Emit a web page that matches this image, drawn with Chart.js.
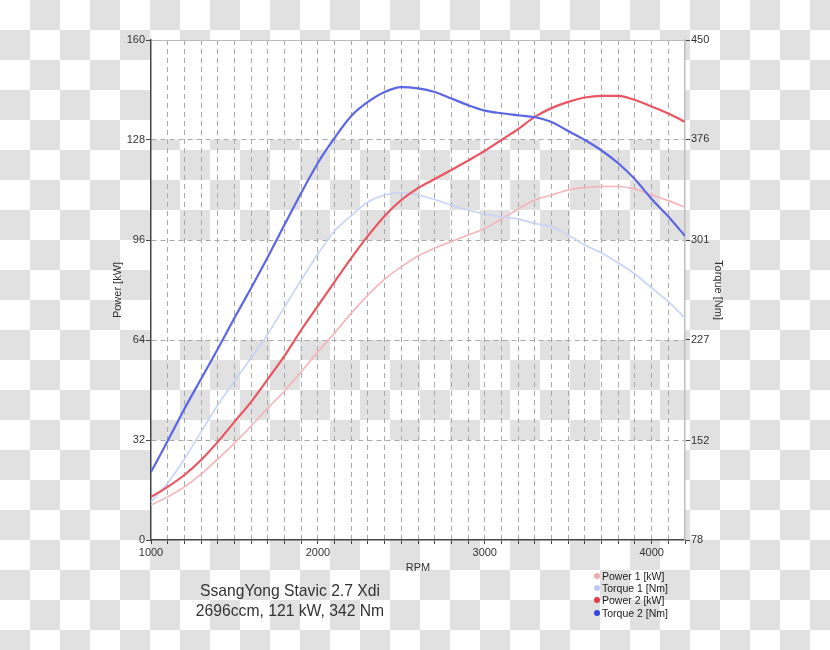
<!DOCTYPE html>
<html>
<head>
<meta charset="utf-8">
<script src="https://cdn.jsdelivr.net/npm/chart.js@4.4.1/dist/chart.umd.min.js"></script>
<style>
  html, body { margin: 0; padding: 0; }
  body {
    width: 830px; height: 650px; overflow: hidden; position: relative;
    background: repeating-conic-gradient(#e1e1e1 0 25%, #ffffff 0 50%) 0 0 / 60px 60px;
    font-family: "Liberation Sans", Arial, sans-serif;
  }
  #c { position: absolute; left: 0; top: 0; }
  #caption {
    position: absolute; left: 140px; width: 300px; top: 581px;
    text-align: center; font-size: 15.7px; line-height: 20px; color: #333;
  }
  #legend { position: absolute; left: 594px; top: 570px; font-size: 10.5px; color: #222; }
  #legend div { height: 12.2px; line-height: 12.2px; white-space: nowrap; }
  #legend span.dot { display: inline-block; width: 6px; height: 6px; border-radius: 3px; margin-right: 2px; vertical-align: 1px; }
</style>
</head>
<body>
<canvas id="c" width="830" height="650"></canvas>
<div id="caption">SsangYong Stavic 2.7 Xdi<br>2696ccm, 121 kW, 342 Nm</div>
<div id="legend"></div>
<script>
// ---- data ----
const rpm = [1000,1100,1200,1300,1400,1500,1600,1700,1800,1900,2000,2100,2200,2300,2400,2500,2600,2700,2800,2900,3000,3100,3200,3300,3400,3500,3600,3700,3800,3900,4000,4100,4200];
const power1 = [11.2,13.8,17.0,21.1,25.9,31.0,36.5,42.2,47.7,53.8,60.2,66.2,72.6,78.4,83.5,87.4,90.9,93.4,95.5,97.6,99.7,102.7,105.9,108.8,110.4,112.0,112.8,113.1,113.1,112.3,110.4,108.6,106.5];
const torque1 = [106.3,120.4,138.3,158.4,178.4,196.3,213.4,231.3,251.4,271.4,290.8,307.9,319.3,329.5,334.7,336.4,334.7,331.3,327.2,323.5,320.5,318.3,316.9,313.5,311.1,304.9,297.5,291.5,284.1,275.9,265.5,255.3,243.2];
const power2 = [13.8,17.0,20.8,25.6,31.4,37.8,44.2,51.5,58.9,67.2,74.9,82.6,90.2,97.3,103.7,108.8,112.6,115.5,118.4,121.4,124.5,128.0,131.5,135.4,138.2,140.2,141.6,142.1,142.1,140.8,138.7,136.5,133.8];
const torque2 = [128.6,151.7,175.5,197.8,220.1,243.2,265.5,288.5,312.5,336.2,358.5,377.1,393.5,403.9,411.3,415.0,414.0,411.3,406.5,401.5,397.5,395.5,394.0,392.5,389.0,382.3,375.6,367.8,358.3,346.4,331.7,318.7,304.2];
const seriesNames = ["Power 1 [kW]", "Torque 1 [Nm]", "Power 2 [kW]", "Torque 2 [Nm]"];
const powerTicks = [0, 32, 64, 96, 128, 160];
const torqueTicks = [78, 152, 227, 301, 376, 450];
const rpmLabels = [1000, 2000, 3000, 4000];

// ---- styling ----
const lineColors = ["#f5b3b8", "#c7d3f7", "#ea5562", "#5b66e4"];
const dotColors = ["#f0aaaa", "#c0c8f6", "#e83a48", "#3845de"];
const lineWidths = [1.6, 1.6, 2.2, 2.2];
const whiteBands = [[0, 32], [64, 96], [128, 160]];

const pts = arr => arr.map((v, i) => ({ x: rpm[i], y: v }));
const seriesData = [power1, torque1, power2, torque2];
const axes = ["yP", "yT", "yP", "yT"];
const orders = [3, 2, 1, 0];

const datasets = seriesData.map((d, i) => ({
  label: seriesNames[i],
  data: pts(d),
  yAxisID: axes[i],
  borderColor: lineColors[i],
  borderWidth: lineWidths[i],
  pointRadius: 0,
  tension: 0.4,
  cubicInterpolationMode: 'monotone',
  fill: false,
  order: orders[i]
}));

const bandPlugin = {
  id: 'bands',
  beforeDraw(chart) {
    const { ctx, chartArea: a, scales } = chart;
    const y = scales.yP;
    ctx.save();
    ctx.fillStyle = '#ffffff';
    whiteBands.forEach(([lo, hi]) => {
      const t = y.getPixelForValue(hi), b = y.getPixelForValue(lo);
      ctx.fillRect(a.left, t, a.right - a.left, b - t);
    });
    ctx.restore();
  }
};

const tickFont = { family: "'Liberation Sans', Arial, sans-serif", size: 11 };
const transparent = 'rgba(0,0,0,0)';

new Chart(document.getElementById('c'), {
  type: 'line',
  data: { datasets },
  options: {
    responsive: false,
    animation: false,
    events: [],
    layout: { padding: { top: 40, left: 0, right: 0, bottom: 0 } },
    plugins: { legend: { display: false }, tooltip: { enabled: false } },
    scales: {
      x: {
        type: 'linear', min: 1000, max: 4200,
        afterFit: s => { s.height = 110; },
        afterBuildTicks: s => { s.ticks = rpm.map(v => ({ value: v })); },
        ticks: {
          autoSkip: false, maxRotation: 0, font: tickFont, color: '#333', padding: 2,
          callback: v => rpmLabels.includes(v) ? String(v) : ''
        },
        grid: {
          color: c => (c.tick && (c.tick.value === 1000 || c.tick.value === 4200)) ? transparent : '#a9a9a9',
          lineWidth: 1, tickLength: 4, tickColor: '#444', tickWidth: 1
        },
        border: { color: '#444', width: 1.5, dash: [5, 4] },
        title: { display: true, text: 'RPM', font: tickFont, color: '#333', padding: { top: 0, bottom: 75 } }
      },
      yP: {
        type: 'linear', position: 'left', min: 0, max: 160,
        afterFit: s => { s.width = 151; },
        afterBuildTicks: s => { s.ticks = powerTicks.map(v => ({ value: v })); },
        ticks: { font: tickFont, color: '#333', padding: 1 },
        grid: {
          color: c => (c.tick && c.tick.value === 0) ? transparent : (c.tick && c.tick.value === 160 ? '#bbbbbb' : '#a9a9a9'),
          lineWidth: 1, tickLength: 5, tickColor: '#444'
        },
        border: { color: '#444', width: 1.5, dash: c => (c.tick && c.tick.value === 160) ? [] : [5, 4] },
        title: { display: true, text: 'Power [kW]', font: tickFont, color: '#333', padding: { top: 111, bottom: 0 } }
      },
      yT: {
        type: 'linear', position: 'right', min: 78, max: 450,
        afterFit: s => { s.width = 145; },
        afterBuildTicks: s => { s.ticks = torqueTicks.map(v => ({ value: v })); },
        ticks: { font: tickFont, color: '#333', padding: 1 },
        grid: { drawOnChartArea: false, tickLength: 5, tickColor: '#444' },
        border: { color: '#bdbdbd', width: 1.5 },
        title: { display: true, text: 'Torque [Nm]', font: tickFont, color: '#333', padding: { top: 105, bottom: 0 } }
      }
    }
  },
  plugins: [bandPlugin]
});

// legend built from the series
const lg = document.getElementById('legend');
seriesNames.forEach((n, i) => {
  const row = document.createElement('div');
  const dot = document.createElement('span');
  dot.className = 'dot';
  dot.style.background = dotColors[i];
  row.appendChild(dot);
  row.appendChild(document.createTextNode(n));
  lg.appendChild(row);
});
</script>
</body>
</html>
